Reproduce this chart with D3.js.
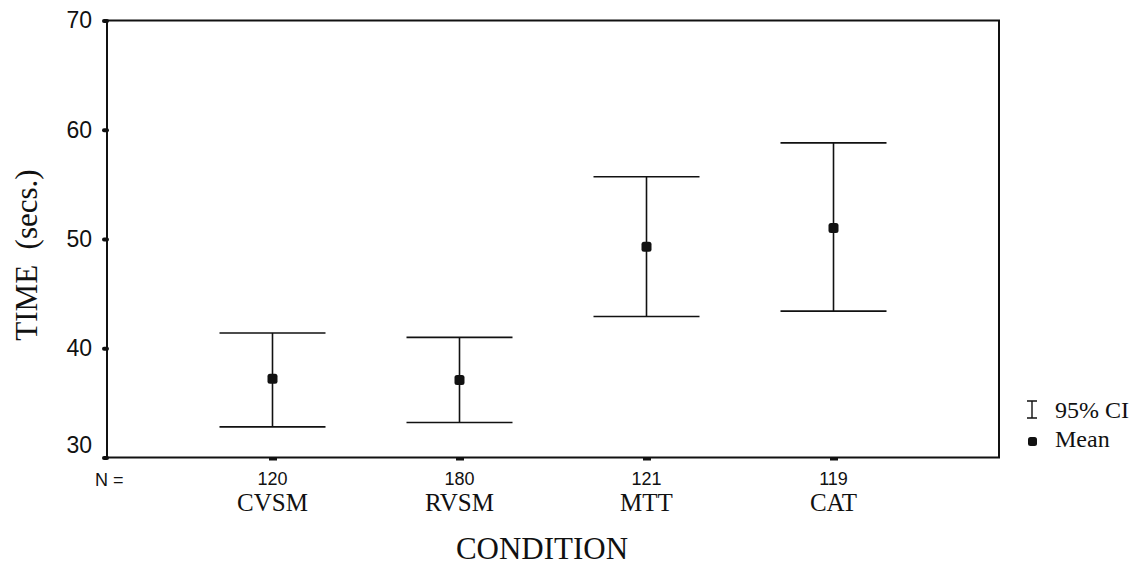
<!DOCTYPE html>
<html>
<head>
<meta charset="utf-8">
<script src="https://cdn.jsdelivr.net/npm/d3@7"></script>
<style>
  html, body { margin: 0; padding: 0; background: #fff; }
  svg { display: block; }
</style>
</head>
<body>
<div id="chart"></div>
<script>
// error-bar chart: mean time per condition with 95% CI
var CONDITIONS = ["CVSM", "RVSM", "MTT", "CAT"];
var N_COUNTS = [120, 180, 121, 119];
var MEANS = [37.2, 37.1, 49.3, 51.0];
var CI_LOW = [32.8, 33.2, 42.9, 43.4];
var CI_HIGH = [41.4, 41.0, 55.7, 58.8];
var Y_TICKS = [30, 40, 50, 60, 70];

var W = 1141, H = 565;
var SERIF = "'Liberation Serif', 'Times New Roman', serif";
var SANS = "'Liberation Sans', Arial, sans-serif";
var INK = "#111";

var svg = d3.select("#chart").append("svg").attr("width", W).attr("height", H);

var L = 107, R = 999, T = 20.5, B = 457.5;
var x = d3.scalePoint().domain(CONDITIONS).range([L, R]).padding(0.885);
var y = d3.scaleLinear().domain([30, 70]).range([B, T]);

var rows = CONDITIONS.map(function (c, i) {
  return { c: c, n: N_COUNTS[i], mean: MEANS[i], lo: CI_LOW[i], hi: CI_HIGH[i] };
});

// frame
svg.append("rect").attr("x", L).attr("y", T).attr("width", R - L).attr("height", B - T)
  .attr("fill", "none").attr("stroke", INK).attr("stroke-width", 2);

// y axis: dot ticks + labels
var ya = svg.append("g").attr("transform", "translate(" + L + ",0)")
  .call(d3.axisLeft(y).tickValues(Y_TICKS).tickSize(3).tickPadding(12));
ya.select(".domain").remove();
ya.selectAll(".tick line").attr("stroke", INK).attr("stroke-width", 4).attr("stroke-linecap", "round");
ya.selectAll(".tick text").attr("fill", INK).style("font-family", SANS).style("font-size", "23px")
  .attr("dy", function (d) { return d === 30 ? "-0.2em" : "0.32em"; });

// x axis: small bumps under the baseline
var xa = svg.append("g").attr("transform", "translate(0," + B + ")")
  .call(d3.axisBottom(x).tickSize(3).tickFormat(""));
xa.select(".domain").remove();
xa.selectAll(".tick line").attr("stroke", INK).attr("stroke-width", 8);

// N counts and category names
svg.append("text").attr("x", 95).attr("y", 486).attr("fill", INK)
  .style("font-family", SANS).style("font-size", "18px").text("N =");
svg.selectAll(".nlab").data(rows).enter().append("text").attr("class", "nlab")
  .attr("x", function (d) { return x(d.c); }).attr("y", 485).attr("text-anchor", "middle")
  .attr("fill", INK).style("font-family", SANS).style("font-size", "18px")
  .text(function (d) { return d.n; });
svg.selectAll(".clab").data(rows).enter().append("text").attr("class", "clab")
  .attr("x", function (d) { return x(d.c); }).attr("y", 511).attr("text-anchor", "middle")
  .attr("fill", INK).style("font-family", SERIF).style("font-size", "25px")
  .text(function (d) { return d.c; });

// error bars
var CAP = 53;
var g = svg.append("g").attr("stroke", INK).attr("stroke-width", 1.6);
g.selectAll(".stem").data(rows).enter().append("line")
  .attr("x1", function (d) { return x(d.c); }).attr("x2", function (d) { return x(d.c); })
  .attr("y1", function (d) { return y(d.lo); }).attr("y2", function (d) { return y(d.hi); });
g.selectAll(".capHi").data(rows).enter().append("line")
  .attr("x1", function (d) { return x(d.c) - CAP; }).attr("x2", function (d) { return x(d.c) + CAP; })
  .attr("y1", function (d) { return y(d.hi); }).attr("y2", function (d) { return y(d.hi); });
g.selectAll(".capLo").data(rows).enter().append("line")
  .attr("x1", function (d) { return x(d.c) - CAP; }).attr("x2", function (d) { return x(d.c) + CAP; })
  .attr("y1", function (d) { return y(d.lo); }).attr("y2", function (d) { return y(d.lo); });
svg.selectAll(".mean").data(rows).enter().append("rect")
  .attr("x", function (d) { return x(d.c) - 5; }).attr("y", function (d) { return y(d.mean) - 5; })
  .attr("width", 10).attr("height", 10).attr("rx", 2.5).attr("fill", INK);

// axis titles
svg.append("text").attr("transform", "translate(37,255) rotate(-90)").attr("text-anchor", "middle")
  .attr("fill", INK).style("font-family", SERIF).style("font-size", "31px")
  .style("white-space", "pre").attr("xml:space", "preserve").text("TIME  (secs.)");
svg.append("text").attr("x", 542).attr("y", 559).attr("text-anchor", "middle")
  .attr("fill", INK).style("font-family", SERIF).style("font-size", "31px").text("CONDITION");

// legend
var lg = svg.append("g").attr("transform", "translate(1032,0)");
lg.append("path").attr("d", "M-5,401H5M0,401V418M-5,418H5").attr("stroke", INK)
  .attr("stroke-width", 1.4).attr("fill", "none");
lg.append("text").attr("x", 23).attr("y", 418).attr("fill", INK)
  .style("font-family", SERIF).style("font-size", "24px").text("95% CI");
lg.append("rect").attr("x", -4).attr("y", 437).attr("width", 9).attr("height", 9).attr("rx", 2.5).attr("fill", INK);
lg.append("text").attr("x", 23).attr("y", 447).attr("fill", INK)
  .style("font-family", SERIF).style("font-size", "24px").text("Mean");
</script>
</body>
</html>
